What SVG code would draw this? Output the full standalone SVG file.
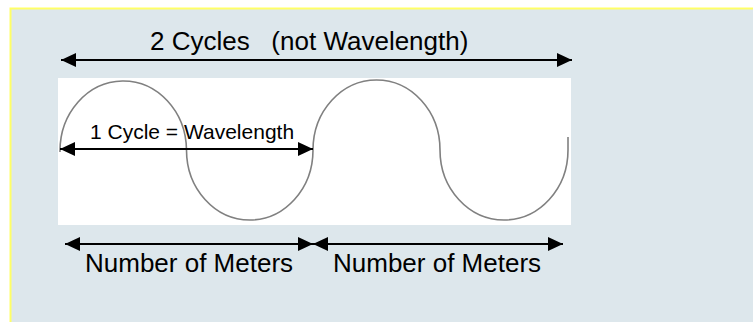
<svg xmlns="http://www.w3.org/2000/svg" width="753" height="322" viewBox="0 0 753 322">
<style>
text{font-family:"Liberation Sans",Arial,sans-serif;fill:#000;white-space:pre}
.big{font-size:26px}
.mid{font-size:21px}
.arr{stroke:#000;stroke-width:2;fill:none;marker-start:url(#ah);marker-end:url(#ah)}
.wave{stroke:#808080;stroke-width:1.6;fill:none}
</style>
<defs>
<marker id="ah" markerUnits="userSpaceOnUse" markerWidth="16" markerHeight="14" refX="15" refY="7" orient="auto-start-reverse">
<path d="M0,0 L15,7 L0,14 z" fill="#000"/>
</marker>
</defs>
<rect x="0" y="0" width="753" height="322" fill="#fff"/>
<rect id="panel" x="10.5" y="8.5" width="800" height="400" fill="#dde7ec" stroke="#ffff66" stroke-width="2"/>
<g id="wave-area">
<rect x="58" y="78" width="513" height="147" fill="#fff"/>
<path class="wave" d="M60,152 A63.25,70 0 0 1 186.5,150 A63.25,70 0 0 0 313,150 A63.5,70 0 0 1 440,150 A64,70 0 0 0 568,150 L568,137"/>
</g>
<g id="connectors">
<line class="arr" x1="61" y1="60" x2="572" y2="60"/>
<line class="arr" x1="60" y1="149" x2="313" y2="149"/>
<line class="arr" x1="65" y1="244" x2="313" y2="244"/>
<line class="arr" x1="313" y1="244" x2="563" y2="244"/>
</g>
<g id="label-2cycles"><text class="big" x="150" y="50">2 Cycles   (not Wavelength)</text></g>
<g id="label-1cycle"><text class="mid" x="90" y="139">1 Cycle = Wavelength</text></g>
<g id="label-meters1"><text class="big" x="85" y="272">Number of Meters</text></g>
<g id="label-meters2"><text class="big" x="333" y="272">Number of Meters</text></g>
</svg>
